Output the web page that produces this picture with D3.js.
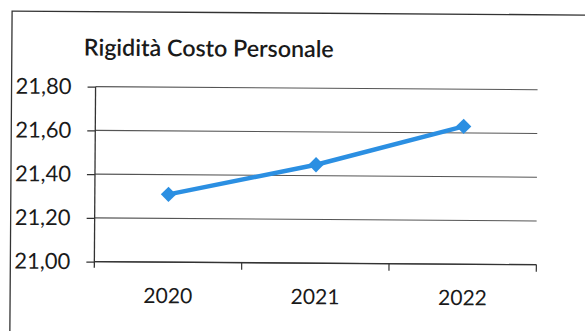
<!DOCTYPE html>
<html>
<head>
<meta charset="utf-8">
<script src="https://cdn.jsdelivr.net/npm/d3@7"></script>
<style>
  html, body { margin: 0; padding: 0; background: #fff; }
  svg { display: block; }
  text { font-family: Lato, "Open Sans", sans-serif; fill: #1a1a1a; }
</style>
</head>
<body>
<svg id="chart" width="585" height="331"></svg>
<script>
// Series: personnel cost rigidity per year
const years = ["2020", "2021", "2022"];
const values = [21.31, 21.45, 21.63];
const yTicks = [21.0, 21.2, 21.4, 21.6, 21.8];
const title = "Rigidità Costo Personale";

const svg = d3.select("#chart");

// size a text node so its rendered width equals the given width
function fitWidth(node, width) {
  const s = d3.select(node);
  s.attr("font-size", 20);
  const w = node.getComputedTextLength();
  const size = 20 * width / w;
  s.attr("font-size", size);
  return size;
}

// slight tilt of the whole sheet
const root = svg.append("g").attr("transform", "rotate(0.4, 290, 170)");

// frame
root.append("rect")
  .attr("x", 11).attr("y", 13).attr("width", 600).attr("height", 340)
  .attr("fill", "none").attr("stroke", "#333").attr("stroke-width", 1.3);

const plot = { left: 95, right: 537, top: 88, bottom: 263 };

const x = d3.scaleBand().domain(years).range([plot.left, plot.right]);
const y = d3.scaleLinear().domain([21.0, 21.8]).range([plot.bottom, plot.top]);

const fmt = v => d3.format(".2f")(v).replace(".", ",");

// horizontal gridlines
root.append("g").selectAll("line").data(yTicks).join("line")
  .attr("x1", plot.left).attr("x2", plot.right)
  .attr("y1", d => y(d)).attr("y2", d => y(d))
  .attr("stroke", "#555").attr("stroke-width", 1.1);

// y axis
const yAxis = root.append("g").attr("transform", `translate(${plot.left},0)`)
  .call(d3.axisLeft(y).tickValues(yTicks).tickFormat(fmt).tickSize(8).tickPadding(16));
yAxis.select(".domain").attr("stroke", "#333").attr("stroke-width", 1.3)
  .attr("d", `M0,${plot.top}V${plot.bottom + 6}`);
yAxis.selectAll(".tick line").attr("stroke", "#333").attr("stroke-width", 1.2);
const yLabels = yAxis.selectAll(".tick text").attr("fill", "#1a1a1a")
  .style("font-family", "Lato, 'Open Sans', sans-serif");
yLabels.attr("font-size", fitWidth(yLabels.node(), 56));

// x axis with ticks at band boundaries
const xAxisG = root.append("g").attr("transform", `translate(0,${plot.bottom})`);
xAxisG.append("line").attr("x1", plot.left).attr("x2", plot.right)
  .attr("stroke", "#333").attr("stroke-width", 1.3);
xAxisG.selectAll("line.tk").data(years).join("line").attr("class", "tk")
  .attr("x1", d => x(d) + x.bandwidth()).attr("x2", d => x(d) + x.bandwidth())
  .attr("y1", 0).attr("y2", 7)
  .attr("stroke", "#333").attr("stroke-width", 1.2);
const xLabels = xAxisG.selectAll("text").data(years).join("text")
  .attr("x", d => x(d) + x.bandwidth() / 2).attr("y", 41)
  .attr("text-anchor", "middle")
  .text(d => d);
xLabels.attr("font-size", fitWidth(xLabels.node(), 49));

// series line
const pts = years.map((k, i) => ({ k, v: values[i] }));
const line = d3.line().x(d => x(d.k) + x.bandwidth() / 2).y(d => y(d.v));
root.append("path").datum(pts)
  .attr("d", line).attr("fill", "none")
  .attr("stroke", "#2b8fe2").attr("stroke-width", 4.5).attr("stroke-linejoin", "round");

// diamond markers
root.append("g").selectAll("path").data(pts).join("path")
  .attr("transform", d => `translate(${x(d.k) + x.bandwidth() / 2},${y(d.v)})`)
  .attr("d", d3.symbol(d3.symbolDiamond2, 150)())
  .attr("fill", "#2b8fe2");

// title
const t = root.append("text")
  .attr("x", 83).attr("y", 57)
  .attr("font-weight", 600)
  .text(title);
fitWidth(t.node(), 250);
</script>
</body>
</html>
